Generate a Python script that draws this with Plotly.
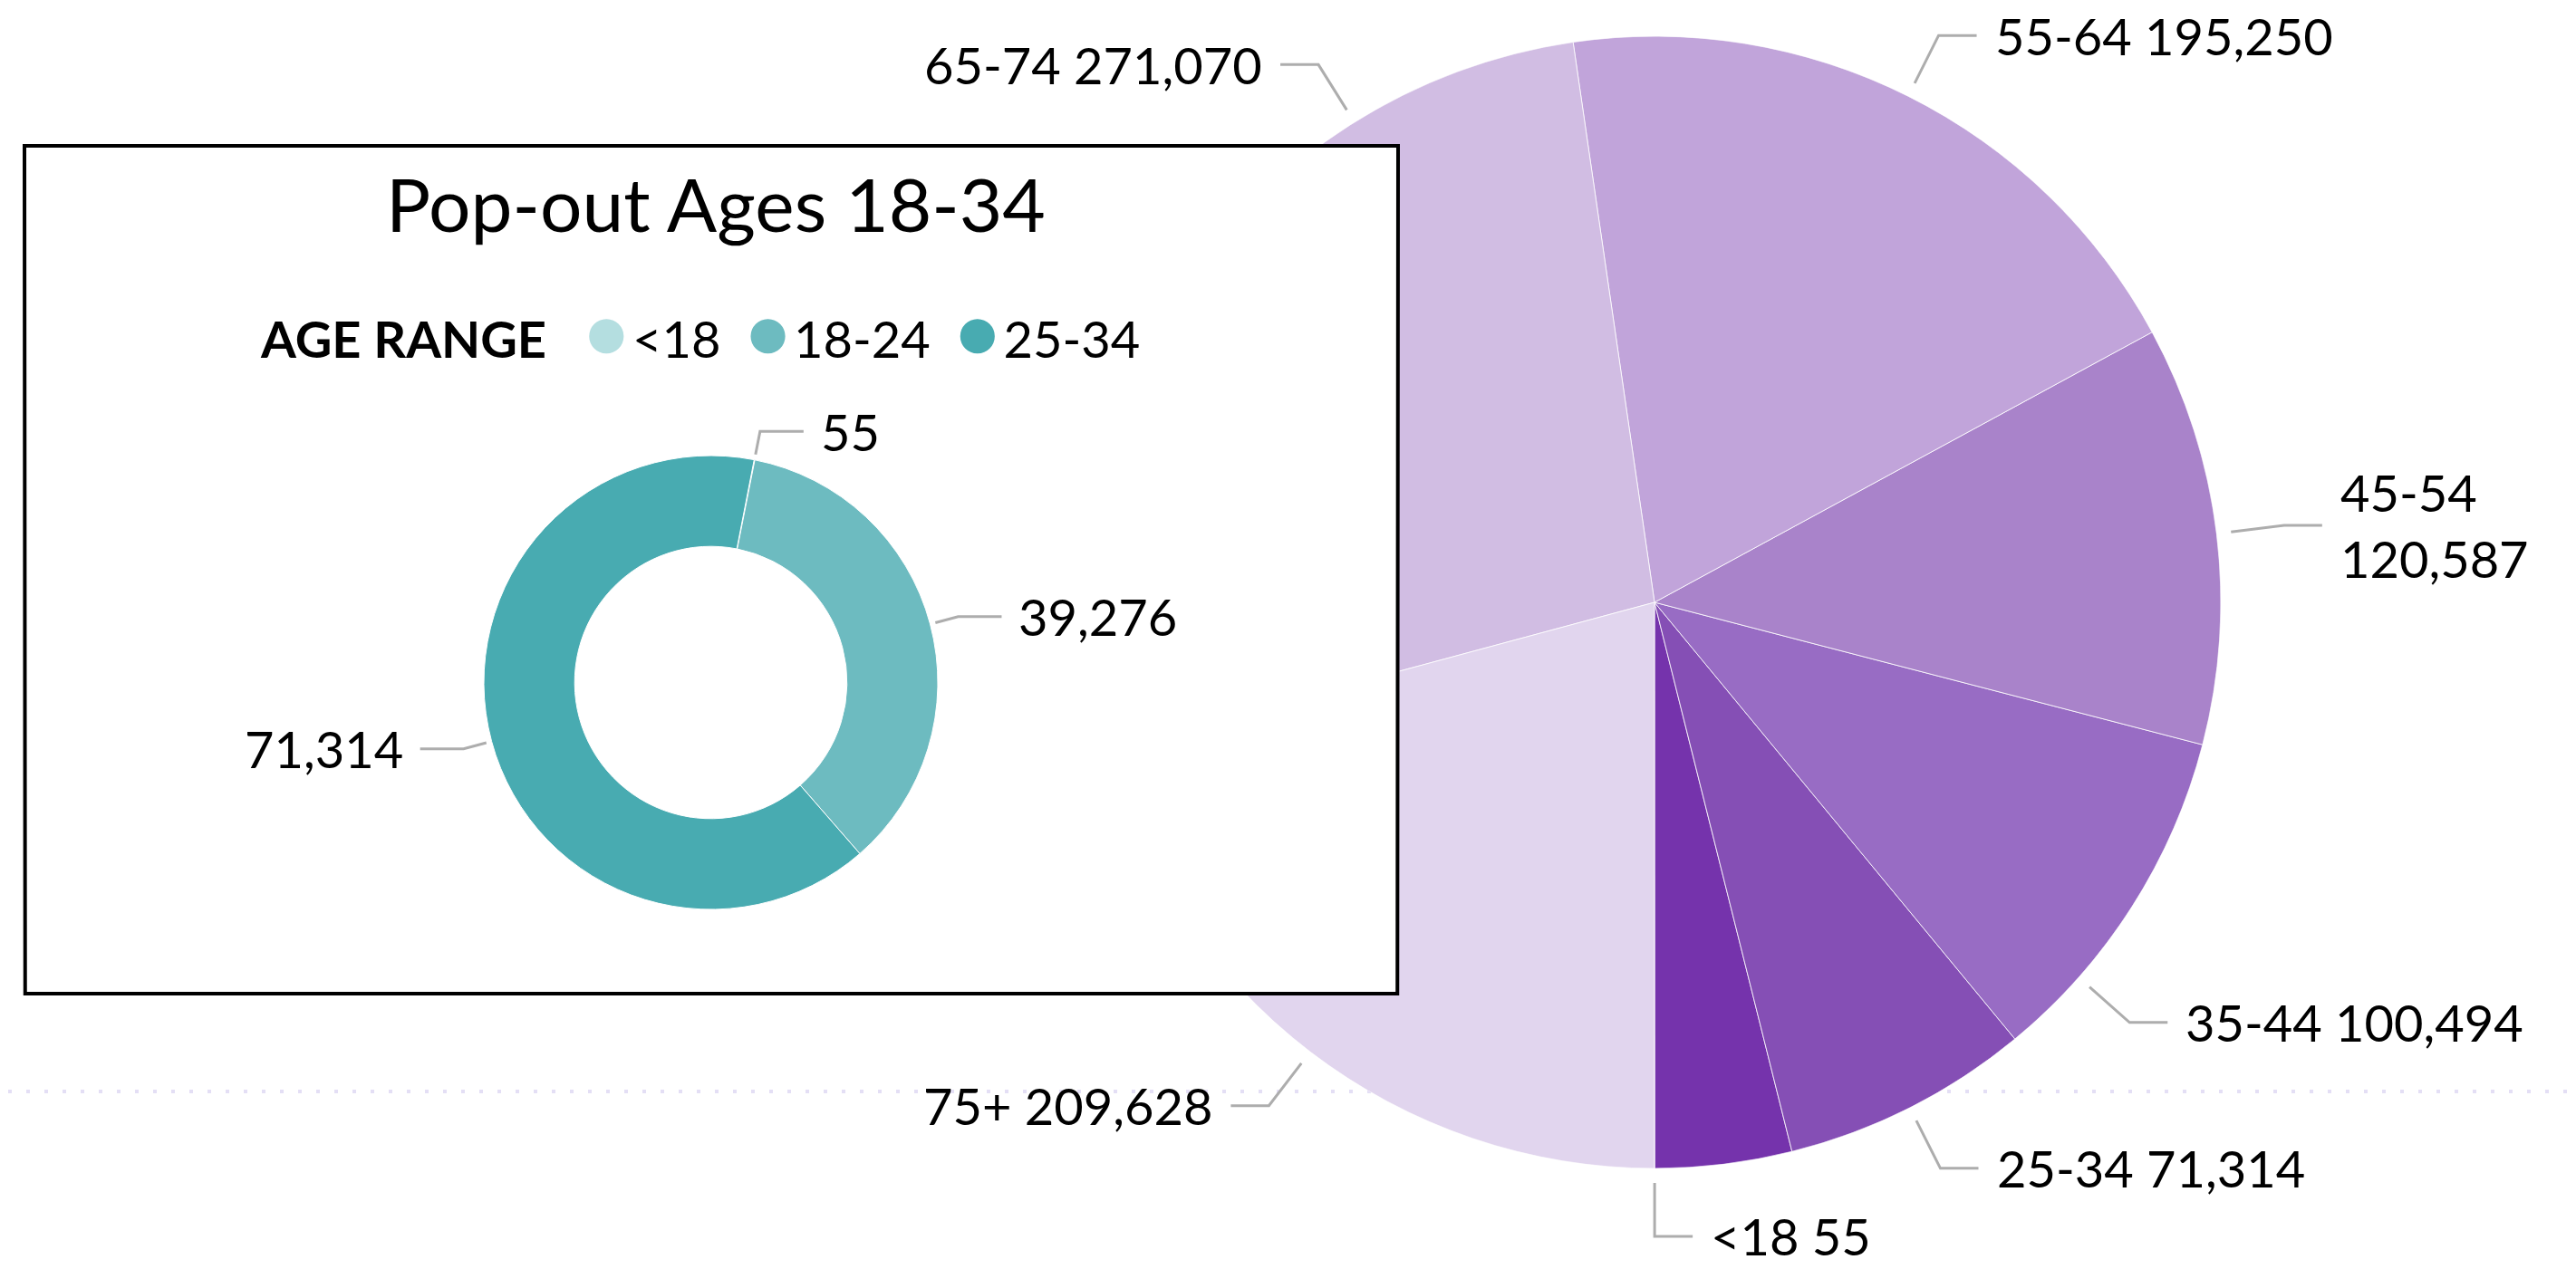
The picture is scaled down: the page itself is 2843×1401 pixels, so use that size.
import math
import plotly.graph_objects as go

# ---------------- data ----------------
age_groups = ["<18", "18-24", "25-34", "35-44", "45-54", "55-64", "65-74", "75+"]
population = [55, 39276, 71314, 100494, 120587, 195250, 271070, 209628]
age_colors = ["#6B2CA0", "#7533AC", "#854FB5", "#986CC4", "#A983CA", "#C1A4DA", "#D1BDE3", "#E1D5EE"]

popout_groups = ["<18", "18-24", "25-34"]
popout_values = [55, 39276, 71314]
popout_colors = ["#B4DEE0", "#6DBBC0", "#48ABB1"]

popout_title = "Pop-out Ages 18-34"
legend_title = "AGE RANGE"

# ---------------- layout constants (pixels) ----------------
W, H = 2843, 1401
BIG_CX, BIG_CY, BIG_R = 1826, 665, 625
DN_CX, DN_CY, DN_R = 784.5, 753.5, 250.5
BOX = (27, 161, 1543, 1097)          # left, top, right, bottom (line centres)
FONT = "Lato, 'Open Sans', sans-serif"
LABEL_SIZE = 56
LEADER_COLOR = "#ADADAD"

# label placement style for the big pie
BIG_HIDDEN = {"18-24"}
BIG_WRAP = {"45-54"}
BIG_ANGLE_OVERRIDE = {"65-74": -32.0, "35-44": 131.5}   # clock degrees


def px(x, y):
    return x / W, 1 - y / H


def on_circle(cx, cy, r, clock_deg):
    a = math.radians(clock_deg)
    return cx + r * math.sin(a), cy - r * math.cos(a)


fig = go.Figure()

# ---------------- big pie (barpolar on a polar subplot) ----------------
total = sum(population)
widths = [v / total * 360 for v in population]
starts = []
acc = 0.0
for w in widths:
    starts.append(acc)
    acc += w
mids = [s + w / 2 for s, w in zip(starts, widths)]

fig.add_trace(go.Barpolar(
    r=[1] * len(population),
    theta=mids,
    width=widths,
    marker=dict(color=age_colors, line=dict(color="white", width=0.8)),
    hoverinfo="skip",
    showlegend=False,
))

# ---------------- pop-out box (funnelarea as a white rectangle) ----------------
bx0, by0, bx1, by1 = BOX
fig.add_trace(go.Funnelarea(
    values=[1],
    labels=["box"],
    baseratio=0.999,
    aspectratio=(by1 - by0) / (bx1 - bx0),
    domain=dict(x=[bx0 / W, bx1 / W], y=[1 - by1 / H, 1 - by0 / H]),
    marker=dict(colors=["white"], line=dict(color="black", width=4)),
    textinfo="none",
    hoverinfo="skip",
    showlegend=False,
))

# ---------------- donut ----------------
DN_ROT = 11
fig.add_trace(go.Pie(
    values=popout_values,
    labels=popout_groups,
    hole=0.6,
    sort=False,
    direction="clockwise",
    rotation=DN_ROT,
    marker=dict(colors=popout_colors, line=dict(color="white", width=1)),
    textinfo="none",
    hoverinfo="skip",
    showlegend=False,
    domain=dict(x=[(DN_CX - DN_R) / W, (DN_CX + DN_R) / W],
                y=[1 - (DN_CY + DN_R) / H, 1 - (DN_CY - DN_R) / H]),
))

annotations = []
shapes = []

# dotted baseline behind the pie
shapes.append(dict(type="line", xref="paper", yref="paper", layer="below",
                   x0=9 / W, x1=1, y0=1 - 1205 / H, y1=1 - 1205 / H,
                   line=dict(color="#E4DFF5", width=4, dash="4px,16px")))


def leader(cx, cy, r_start, r_elbow, clock_deg, horiz, gap, text):
    x0, y0 = on_circle(cx, cy, r_start, clock_deg)
    x1, y1 = on_circle(cx, cy, r_elbow, clock_deg)
    side = 1 if math.sin(math.radians(clock_deg)) > 0 else -1
    x2 = x1 + side * horiz
    p0, p1, p2 = px(x0, y0), px(x1, y1), px(x2, y1)
    shapes.append(dict(type="path", xref="paper", yref="paper", layer="above",
                       path=f"M {p0[0]},{p0[1]} L {p1[0]},{p1[1]} L {p2[0]},{p2[1]}",
                       line=dict(color=LEADER_COLOR, width=3)))
    tx, ty = px(x2 + side * gap, y1)
    annotations.append(dict(xref="paper", yref="paper", x=tx, y=ty, text=text,
                            showarrow=False, xanchor="left" if side > 0 else "right",
                            yanchor="middle", align="left",
                            font=dict(family=FONT, size=LABEL_SIZE, color="black")))


# big-pie labels (angles counter-clockwise from 6 o'clock -> clock degrees)
for g, v, m in zip(age_groups, population, mids):
    if g in BIG_HIDDEN:
        continue
    clock = BIG_ANGLE_OVERRIDE.get(g, 180 - m)
    sep = "<br>" if g in BIG_WRAP else " "
    text = f"{g.replace('<', '&lt;')}{sep}{v:,}"
    leader(BIG_CX, BIG_CY, BIG_R + 16, BIG_R + 75, clock, 42, 18, text)

# donut labels
dn_total = sum(popout_values)
acc = DN_ROT
for g, v in zip(popout_groups, popout_values):
    w = v / dn_total * 360
    leader(DN_CX, DN_CY, DN_R + 6, DN_R + 32, acc + w / 2, 48, 17, f"{v:,}")
    acc += w

# title of the pop-out
annotations.append(dict(xref="paper", yref="paper", x=790 / W, y=1 - 224 / H,
                        text=popout_title, showarrow=False, xanchor="center", yanchor="middle",
                        font=dict(family=FONT, size=82, color="black")))

# legend of the pop-out
NB = "\u00a0"
parts = [f"<b>{legend_title}</b>{NB * 3}"]
for i, (g, c) in enumerate(zip(popout_groups, popout_colors)):
    lead = "" if i == 0 else NB * 2
    parts.append(f"{lead}<span style='color:{c};font-size:78px'>●</span>"
                 f"<span style='font-size:20px'>{NB}</span>{g.replace('<', '&lt;')}")
annotations.append(dict(xref="paper", yref="paper", x=772 / W, y=1 - 365 / H,
                        text="".join(parts), showarrow=False, xanchor="center", yanchor="middle",
                        font=dict(family=FONT, size=LABEL_SIZE, color="black")))

fig.update_layout(
    width=W, height=H,
    margin=dict(l=0, r=0, t=0, b=0),
    paper_bgcolor="white",
    plot_bgcolor="white",
    showlegend=False,
    polar=dict(
        domain=dict(x=[(BIG_CX - BIG_R) / W, (BIG_CX + BIG_R) / W],
                    y=[1 - (BIG_CY + BIG_R) / H, 1 - (BIG_CY - BIG_R) / H]),
        bgcolor="rgba(0,0,0,0)",
        hole=0,
        bargap=0,
        radialaxis=dict(visible=False, range=[0, 1]),
        angularaxis=dict(visible=False, rotation=-90, direction="counterclockwise"),
    ),
    shapes=shapes,
    annotations=annotations,
)

fig.write_html("out.html", config={"displayModeBar": False},
               post_script="document.body.style.margin='0px';")
